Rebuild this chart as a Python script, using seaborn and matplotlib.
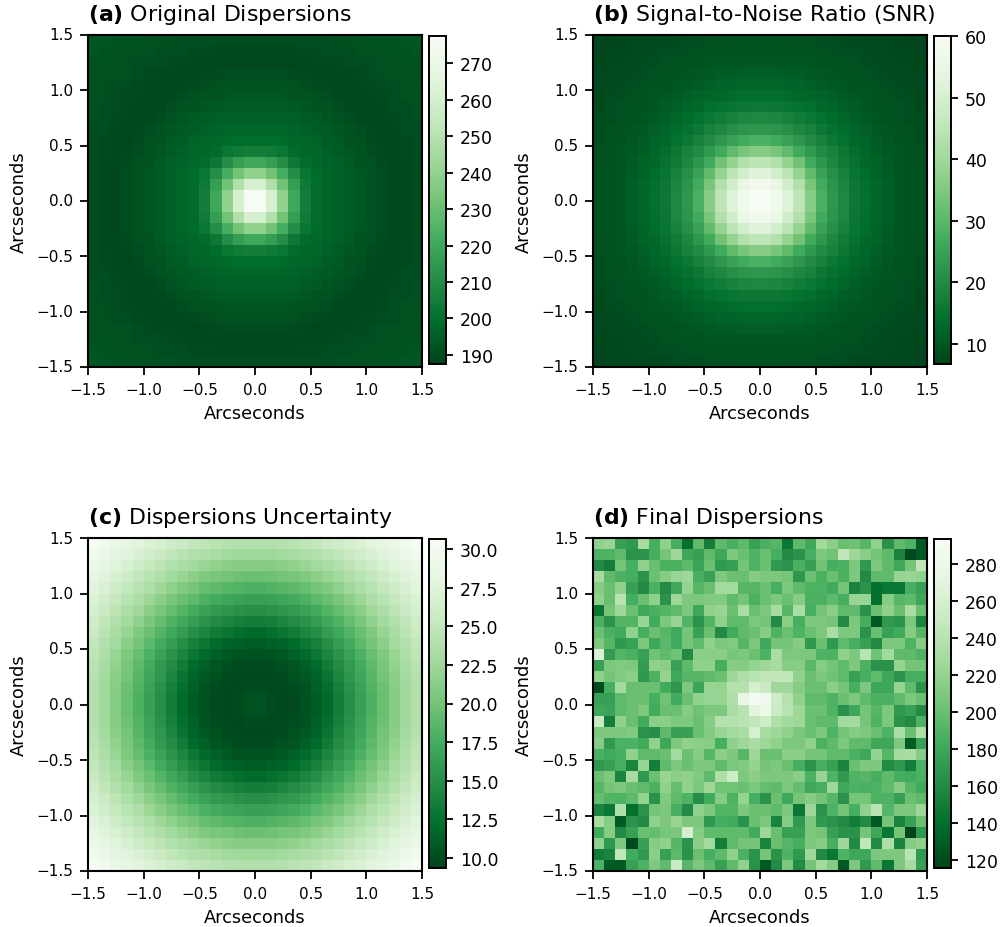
#!/usr/bin/env python

import numpy as np
import seaborn as sns
import matplotlib.pyplot as plt

# Upper left quadrants (rows top to centre, columns left to centre), mirrored when plotted
original_quadrant = [
    [193,192.5,192,192,191.5,191,191,191,190.5,190.5,190,190,190,190,190],
    [192.5,192,192,191,191,191,190.5,190,190,189.5,189.5,189,189,189,189],
    [192,192,191,191,190.5,190,190,189.5,189,189,188.5,188.5,188.5,188.5,188.5],
    [192,191,191,191,190,189.5,189,189,188.5,188.5,189,189.5,190,190,190],
    [191.5,191,190.5,190,189.5,189,188.5,188.5,189,189.5,190.5,191,191.5,191.5,191.5],
    [191,191,190,189.5,189,188.5,188.5,189,190,191,191.5,192,192.5,193,193],
    [191,190.5,190,189,188.5,188.5,189,190.5,191.5,192,193,193.5,194,194,194],
    [191,190,189.5,189,188.5,189,190.5,191.5,192.5,193.5,194.5,195,195.5,195.5,195.5],
    [190.5,190,189,188.5,189,190,191.5,192.5,193.5,194.5,195.5,196.5,197,197,197],
    [190.5,189.5,189,188.5,189.5,191,192,193.5,194.5,196,197,197.5,198.5,199,199],
    [190,189.5,188.5,189,190.5,191.5,193,194.5,195.5,197,198,199,202,204,205],
    [190,189,188.5,189.5,191,192,193.5,195,196.5,197.5,199,203,211,217,220],
    [190,189,188.5,190,191.5,192.5,194,195.5,197,198.5,202,211,222,232,240],
    [190,189,188.5,190,191.5,193,194,195.5,197,199,204,217,232,248,260],
    [190,189,188.5,190,191.5,193,194,195.5,197,199,205,220,240,260,277],
]

snr_quadrant = [
    [7,7.1,7.3,7.4,7.5,7.7,7.9,8.1,8.3,8.5,8.6,8.7,8.8,8.9,8.9],
    [7.1,7.3,7.4,7.6,7.8,8,8.2,8.5,8.7,8.9,9,9.1,9.3,9.3,9.4],
    [7.3,7.4,7.6,7.8,8.1,8.4,8.7,8.9,9.1,9.3,9.5,9.7,9.9,10,10],
    [7.4,7.6,7.8,8.1,8.4,8.7,9,9.3,9.6,9.9,10.2,10.5,10.7,11,11],
    [7.5,7.8,8.1,8.4,8.8,9.1,9.4,9.8,10.2,10.6,11.1,11.8,12.1,12.4,12.5],
    [7.7,8,8.4,8.7,9.1,9.5,9.9,10.4,11,12,12.5,12.9,13.4,13.8,14],
    [7.9,8.2,8.7,9,9.4,9.9,10.5,11.2,12.3,12.9,13.8,14.6,15.2,15.8,16],
    [8.1,8.5,8.9,9.3,9.8,10.4,11.2,12.4,13.2,14.4,15.6,16.6,18,18.8,19],
    [8.3,8.7,9.1,9.6,10.2,11,12.3,13.2,14.6,16,18,19.4,21,22,22.5],
    [8.5,8.9,9.3,9.9,10.6,12,12.9,14.4,16,18,20,22.5,25,26.5,28],
    [8.6,9,9.5,10.2,11.1,12.5,13.8,15.6,18,20,23,26.5,31,34,36],
    [8.7,9.1,9.7,10.5,11.8,12.9,14.6,16.6,19,22.5,26.5,33,38,43,45],
    [8.8,9.3,9.9,10.7,12.1,13.4,15.2,18,21,25,31,38,45,49,52],
    [8.9,9.3,10,11,12.4,13.8,15.8,18.8,22,26.5,34,43,49,55,57],
    [8.9,9.4,10,11,12.5,14,16,19,22.5,28,36,45,52,57,60],
]

uncertainty_quadrant = [
    [30.5,29.7,28.9,28.2,27.7,27.1,26.6,26,25.5,25,24.6,24.3,24,23.9,23.8],
    [29.7,28.9,28.1,27.5,26.9,26.3,25.6,24.9,24.4,23.9,23.5,23.1,22.8,22.6,22.5],
    [28.9,28.1,27.5,26.8,26,25.2,24.5,23.9,23.3,22.8,22.2,21.8,21.3,21.1,21],
    [28.2,27.5,26.8,26,25.1,24.3,23.6,22.8,22.1,21.3,20.7,20.3,20,19.7,19.5],
    [27.7,26.9,26,25.1,24.2,23.5,22.5,21.6,20.7,20.1,19.4,18.9,18.5,18.2,18],
    [27.1,26.3,25.2,24.3,23.5,22.4,21.3,20.4,19.5,18.8,18,17.4,17,16.6,16.5],
    [26.6,25.6,24.5,23.6,22.5,21.3,20.3,19.2,18.3,17.4,16.6,16,15.6,15.2,15],
    [26,24.9,23.9,22.8,21.6,20.4,19.2,18.1,17.1,16.2,15.3,14.7,14.1,13.6,13.5],
    [25.5,24.4,23.3,22.1,20.7,19.5,18.3,17.1,16.1,15,14.1,13.3,12.7,12.3,12],
    [25,23.9,22.8,21.3,20.1,18.8,17.4,16.2,15,13.9,12.9,12,11.5,11.2,11],
    [24.6,23.5,22.2,20.7,19.4,18,16.6,15.3,14.1,12.9,11.9,11.2,10.7,10.4,10.3],
    [24.3,23.1,21.8,20.3,18.9,17.4,16,14.7,13.3,12,11.2,10.5,10.2,9.9,9.8],
    [24,22.8,21.3,20,18.5,17,15.6,14.1,12.7,11.5,10.7,10.2,9.8,9.6,9.6],
    [23.9,22.6,21.1,19.7,18.2,16.6,15.2,13.6,12.3,11.2,10.4,9.9,9.6,9.7,9.9],
    [23.8,22.5,21,19.5,18,16.5,15,13.5,12,11,10.3,9.8,9.6,9.9,10.2],
]

final_dispersions = [
    [218,222,175,170,230,185,218,185,140,196,150,196,185,196,175,187,192,145,196,180,228,215,200,203,192,218,165,196,188,128],
    [188,188,196,165,165,185,205,225,180,175,196,180,209,200,188,200,185,160,165,185,209,203,245,225,215,205,196,155,118,128],
    [160,150,205,185,218,200,187,187,196,178,200,170,175,205,188,200,170,165,187,175,203,185,187,209,170,209,196,180,205,245],
    [230,196,187,185,165,200,213,222,225,185,175,209,200,200,213,209,209,205,168,200,187,200,187,209,160,196,196,222,222,218],
    [213,200,218,175,160,187,160,180,220,192,200,228,228,192,192,200,185,209,196,188,188,182,205,155,165,140,145,145,185,175],
    [218,200,240,185,200,218,165,225,209,209,211,211,196,205,187,200,209,200,213,187,187,196,185,222,222,140,213,192,196,180],
    [145,205,225,200,180,187,190,196,209,180,218,222,200,232,200,209,230,192,232,185,205,215,196,196,165,200,218,200,232,200],
    [187,165,190,190,222,182,209,222,190,165,190,218,196,196,209,205,160,215,185,209,209,205,160,209,185,128,170,165,209,155],
    [200,187,182,218,185,200,192,182,205,175,200,160,182,196,200,213,188,200,188,200,209,232,209,209,165,200,175,182,213,192],
    [209,192,170,175,209,180,194,182,205,196,218,209,211,192,209,180,205,205,213,170,200,170,196,185,175,160,209,209,188,213],
    [262,172,190,187,175,203,196,203,160,215,215,215,206,209,200,188,232,209,209,209,188,188,218,209,240,203,228,196,196,188],
    [175,209,211,209,172,218,215,175,196,218,218,185,213,213,220,225,230,213,213,194,213,205,196,209,187,165,165,220,205,205],
    [218,205,211,215,170,187,220,180,192,192,196,200,225,235,240,245,245,245,218,200,209,203,196,175,185,196,180,165,185,185],
    [120,185,228,200,200,200,182,168,209,178,222,220,238,238,260,250,225,225,213,200,200,215,205,185,209,180,180,220,196,165],
    [175,175,196,200,200,185,203,182,200,218,222,222,235,275,290,285,255,238,218,196,196,188,200,209,196,187,187,196,209,200],
    [180,178,196,200,209,182,200,200,213,203,209,209,232,240,270,280,252,240,225,200,200,188,165,180,205,192,209,170,175,160],
    [250,150,218,200,182,215,215,209,209,200,213,238,238,240,245,255,235,228,225,200,196,196,228,228,205,188,209,165,160,188],
    [209,209,209,211,165,162,196,175,175,200,211,222,228,232,260,230,225,218,209,200,209,188,205,213,209,200,188,232,200,235],
    [213,170,187,187,182,218,180,209,218,215,213,185,218,225,232,225,218,209,209,218,187,196,209,196,196,180,180,209,128,175],
    [187,182,185,218,196,196,200,228,200,213,192,215,209,192,225,200,200,215,215,205,205,196,196,187,180,220,192,228,232,213],
    [170,175,185,155,222,150,196,209,200,209,209,196,209,211,220,205,209,200,185,165,185,175,155,200,209,209,160,170,150,188],
    [200,209,155,230,170,200,222,215,218,211,196,235,255,209,215,209,209,209,215,187,222,188,170,188,192,185,196,185,182,187],
    [192,205,209,200,196,187,218,198,218,209,225,203,203,200,209,198,196,209,198,180,185,225,180,188,187,188,196,213,192,182],
    [198,190,188,196,220,165,211,196,188,162,182,213,188,220,185,165,200,180,205,213,205,192,165,205,205,188,188,175,200,196],
    [155,145,235,140,165,205,209,185,160,218,209,190,190,209,200,200,196,209,145,225,165,188,205,185,218,240,192,209,209,225],
    [232,213,128,165,160,218,209,222,209,209,170,185,182,165,200,209,155,213,170,209,170,165,160,150,160,128,205,155,175,200],
    [182,213,160,175,200,198,206,209,260,213,196,196,196,196,182,225,200,175,175,209,205,175,165,165,205,180,145,205,115,170],
    [218,170,209,118,175,213,218,192,165,215,228,150,196,205,205,155,200,192,185,209,213,185,225,160,245,160,235,155,213,218],
    [150,155,245,182,170,215,175,196,165,200,185,196,218,187,165,205,165,188,170,225,160,145,188,180,180,209,209,209,240,170],
    [188,128,128,175,188,209,196,250,192,209,196,175,196,218,165,128,160,209,160,205,228,213,128,209,170,196,145,209,230,175],
]

panel_letters = ['a', 'b', 'c', 'd']
panel_titles = ['Original Dispersions', 'Signal-to-Noise Ratio (SNR)',
                'Dispersions Uncertainty', 'Final Dispersions']
color_limits = [(187.5, 277.5), (6.7, 60), (9.35, 30.65), (115.6, 293.5)]
colorbar_ticks = [list(range(190, 271, 10)), list(range(10, 61, 10)),
                  [10.0, 12.5, 15.0, 17.5, 20.0, 22.5, 25.0, 27.5, 30.0],
                  list(range(120, 281, 20))]
colorbar_formats = ['%d', '%d', '%.1f', '%d']
arcsec_ticks = [-1.5, -1.0, -0.5, 0.0, 0.5, 1.0, 1.5]


def mirror(quadrant):
    """Builds the full 30x30 map from its upper left quadrant."""
    top = np.hstack([quadrant, np.fliplr(quadrant)])
    return np.vstack([top, np.flipud(top)])


def pixel_axes(fig, left, top, right, bottom):
    """Adds axes from pixel edges measured from the top left of the figure."""
    width, height = fig.get_size_inches() * fig.dpi
    return fig.add_axes([left / width, 1 - bottom / height,
                         (right - left) / width, (bottom - top) / height])


maps = [mirror(np.array(original_quadrant, dtype=float)),
        mirror(np.array(snr_quadrant, dtype=float)),
        mirror(np.array(uncertainty_quadrant, dtype=float)),
        np.array(final_dispersions, dtype=float)]

fig = plt.figure(figsize=(10.03, 9.28), dpi=100)

# Pixel edges of each panel
columns = [(88, 422), (593, 927)]
rows = [(36, 368), (539, 872)]

for i in range(4):
    left, right = columns[i % 2]
    top, bottom = rows[i // 2]
    ax = pixel_axes(fig, left, top, right, bottom)
    cax = pixel_axes(fig, right + 7, top + 1, right + 24, bottom - 3)

    vmin, vmax = color_limits[i]
    sns.heatmap(maps[i], cmap='Greens_r', vmin=vmin, vmax=vmax, ax=ax, cbar_ax=cax,
                cbar_kws={'ticks': colorbar_ticks[i], 'format': colorbar_formats[i]})

    # heatmap cells sit at integers, 10 cells to the arcsecond
    ax.set_xticks([(t + 1.5) * 10 for t in arcsec_ticks])
    ax.set_yticks([(1.5 - t) * 10 for t in arcsec_ticks])
    labels = [f'{t:.1f}'.replace('-', '\u2212') for t in arcsec_ticks]
    ax.set_xticklabels(labels, rotation=0, fontsize=11)
    ax.set_yticklabels(labels, rotation=0, fontsize=11)
    ax.tick_params(length=5.5, width=1.3, pad=5)
    ax.set_xlabel('Arcseconds', fontsize=12.8, labelpad=5)
    ax.set_ylabel('Arcseconds', fontsize=12.8, labelpad=6)
    ax.set_title(rf'$\bf{{({panel_letters[i]})}}$ {panel_titles[i]}', loc='left', fontsize=15.8, pad=11)
    for spine in ax.spines.values():
        spine.set_visible(True)
        spine.set_linewidth(1.5)

    cax.tick_params(labelsize=12.5, length=5, width=1.3, pad=5)
    for spine in cax.spines.values():
        spine.set_visible(True)
        spine.set_linewidth(1.2)

plt.savefig('out.png', dpi=100)
plt.close()
